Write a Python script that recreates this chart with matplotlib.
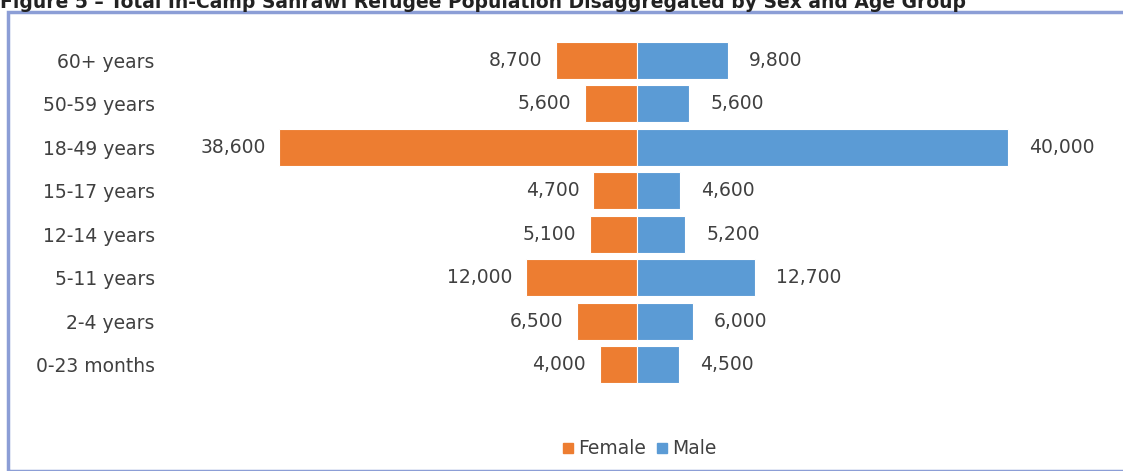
import numpy as np
import matplotlib.pyplot as plt
from matplotlib.patches import Rectangle, Patch

plt.rcParams['font.family'] = ['DejaVu Sans']

age_groups = ["0-23 months", "2-4 years", "5-11 years", "12-14 years",
              "15-17 years", "18-49 years", "50-59 years", "60+ years"]
female = [4000, 6500, 12000, 5100, 4700, 38600, 5600, 8700]
male = [4500, 6000, 12700, 5200, 4600, 40000, 5600, 9800]

orange = "#ED7D31"
blue = "#5B9BD5"
txt = "#404040"

fig = plt.figure(figsize=(11.23, 4.71), dpi=100)
W, H = 1123, 471

# frame around the chart
fig.patches.append(Rectangle((8 / W, 0), 1.2, (471 - 12) / H, transform=fig.transFigure,
                             fill=False, edgecolor="#8C9ED6", linewidth=2.5, zorder=0))

fig.text(0.0, 1.0 - 2 / H, "Figure 5 \u2013 Total In-Camp Sahrawi Refugee Population Disaggregated by Sex and Age Group",
         ha="left", va="center", fontsize=13.5, fontweight="bold", color="#222222")

ax = fig.add_axes([170 / W, 1 - 391 / H, (1105 - 170) / W, (391 - 34) / H])
y = np.arange(len(age_groups))
ax.barh(y, [-v for v in female], height=0.85, color=orange, edgecolor="white", linewidth=0.8, label="Female")
ax.barh(y, male, height=0.85, color=blue, edgecolor="white", linewidth=0.8, label="Male")

for yi, f, m in zip(y, female, male):
    ax.text(-f - 1500, yi, f"{f:,}", ha="right", va="center", fontsize=13.5, color=txt)
    ax.text(m + 2300, yi, f"{m:,}", ha="left", va="center", fontsize=13.5, color=txt)

ax.set_xlim(-50400, 50500)
ax.set_ylim(-0.6, 7.6)
ax.set_yticks(y)
ax.set_yticklabels(age_groups, fontsize=13.5, color=txt)
ax.tick_params(axis="y", length=0, pad=11)
ax.set_xticks([])
for s in ax.spines.values():
    s.set_visible(False)

handles = [Patch(color=orange, label="Female"), Patch(color=blue, label="Male")]
fig.legend(handles=handles, loc="center", bbox_to_anchor=(640 / W, 1 - 449 / H), ncol=2,
           frameon=False, fontsize=13.5, handlelength=0.5, handleheight=0.5,
           handletextpad=0.3, columnspacing=0.6, labelcolor=txt)

fig.savefig("out.png", dpi=100)
